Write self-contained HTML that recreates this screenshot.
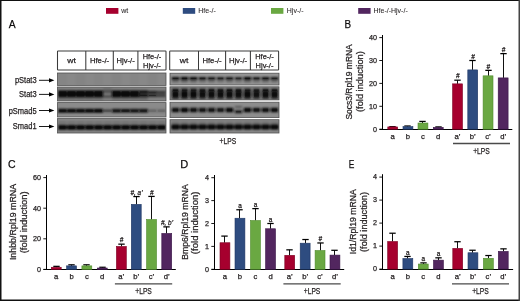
<!DOCTYPE html>
<html><head><meta charset="utf-8"><style>
html,body{margin:0;padding:0;background:#fff;}
svg{display:block;will-change:transform;}
text{font-family:"Liberation Sans", sans-serif;stroke:#231f20;stroke-width:0.25px;}
text.m{font-style:italic;}
</style></head><body>
<svg width="520" height="301" viewBox="0 0 520 301" font-family="Liberation Sans, sans-serif">
<defs><filter id="bl" x="-20%" y="-50%" width="140%" height="200%"><feGaussianBlur stdDeviation="0.8"/></filter></defs>
<rect x="0" y="0" width="520" height="301" fill="#fff"/>
<rect x="106" y="8" width="12.4" height="5.8" fill="#a6002e"/>
<text x="121.3" y="12.9" font-size="7" text-anchor="start" fill="#231f20" style="stroke-width:0.05px">wt</text>
<rect x="182.8" y="8" width="12.4" height="5.8" fill="#2e4c80"/>
<text x="198.3" y="12.9" font-size="7" text-anchor="start" fill="#231f20" style="stroke-width:0.05px">Hfe-/-</text>
<rect x="271" y="8" width="12.4" height="5.8" fill="#6aa842"/>
<text x="286.8" y="12.9" font-size="7" text-anchor="start" fill="#231f20" style="stroke-width:0.05px">Hjv-/-</text>
<rect x="358.2" y="8" width="12.4" height="5.8" fill="#52265f"/>
<text x="373.5" y="12.9" font-size="7" text-anchor="start" fill="#231f20" style="stroke-width:0.05px">Hfe-/-Hjv-/-</text>
<text x="8.8" y="27.9" font-size="11.2" text-anchor="start" fill="#000" textLength="6.9" lengthAdjust="spacingAndGlyphs">A</text>
<text x="344.4" y="27.8" font-size="11.2" text-anchor="start" fill="#000" textLength="6.6" lengthAdjust="spacingAndGlyphs">B</text>
<text x="7.9" y="168" font-size="11.2" text-anchor="start" fill="#000" textLength="7.6" lengthAdjust="spacingAndGlyphs">C</text>
<text x="180.3" y="167.6" font-size="11.2" text-anchor="start" fill="#000" textLength="8.0" lengthAdjust="spacingAndGlyphs">D</text>
<text x="348.8" y="167.6" font-size="11.2" text-anchor="start" fill="#000" textLength="5.6" lengthAdjust="spacingAndGlyphs">E</text>
<rect x="57.5" y="73.0" width="108.5" height="12.400000000000006" fill="#888888"/>
<clipPath id="c15"><rect x="57.5" y="73.0" width="108.5" height="12.400000000000006"/></clipPath>
<g clip-path="url(#c15)"><g filter="url(#bl)">
<rect x="58.0" y="73.0" width="9.0" height="12.400000000000006" fill="rgb(0,0,0)" fill-opacity="0.02"/>
<rect x="76.0" y="73.0" width="9.0" height="12.400000000000006" fill="rgb(0,0,0)" fill-opacity="0.03"/>
<rect x="94.0" y="73.0" width="9.0" height="12.400000000000006" fill="rgb(0,0,0)" fill-opacity="0.02"/>
<rect x="112.0" y="73.0" width="9.0" height="12.400000000000006" fill="rgb(0,0,0)" fill-opacity="0.03"/>
<rect x="130.0" y="73.0" width="9.0" height="12.400000000000006" fill="rgb(0,0,0)" fill-opacity="0.02"/>
<rect x="148.0" y="73.0" width="9.0" height="12.400000000000006" fill="rgb(0,0,0)" fill-opacity="0.03"/>
</g>
</g>
<rect x="57.5" y="73.0" width="108.5" height="12.400000000000006" fill="none" stroke="#505050" stroke-width="0.8"/>
<rect x="57.5" y="87.0" width="108.5" height="14.0" fill="#808080"/>
<clipPath id="c27"><rect x="57.5" y="87.0" width="108.5" height="14.0"/></clipPath>
<g clip-path="url(#c27)"><g filter="url(#bl)">
<rect x="57.9" y="90.5" width="9.3" height="3.8" rx="0.8" fill="#080808" fill-opacity="1.00"/>
<rect x="57.9" y="93.5" width="9.3" height="3.8" rx="0.8" fill="#080808" fill-opacity="1.00"/>
<rect x="57.9" y="98.2" width="9.3" height="1.2" rx="0.8" fill="#080808" fill-opacity="0.32"/>
<rect x="66.8" y="90.5" width="9.3" height="3.8" rx="0.8" fill="#080808" fill-opacity="1.00"/>
<rect x="66.8" y="93.5" width="9.3" height="3.8" rx="0.8" fill="#080808" fill-opacity="1.00"/>
<rect x="66.8" y="98.2" width="9.3" height="1.2" rx="0.8" fill="#080808" fill-opacity="0.32"/>
<rect x="75.8" y="90.5" width="9.3" height="3.8" rx="0.8" fill="#080808" fill-opacity="1.00"/>
<rect x="75.8" y="93.5" width="9.3" height="3.8" rx="0.8" fill="#080808" fill-opacity="1.00"/>
<rect x="75.8" y="98.2" width="9.3" height="1.2" rx="0.8" fill="#080808" fill-opacity="0.32"/>
<rect x="84.8" y="90.5" width="9.3" height="3.8" rx="0.8" fill="#080808" fill-opacity="1.00"/>
<rect x="84.8" y="93.5" width="9.3" height="3.8" rx="0.8" fill="#080808" fill-opacity="1.00"/>
<rect x="84.8" y="98.2" width="9.3" height="1.2" rx="0.8" fill="#080808" fill-opacity="0.32"/>
<rect x="93.8" y="90.5" width="9.3" height="3.8" rx="0.8" fill="#080808" fill-opacity="1.00"/>
<rect x="93.8" y="93.5" width="9.3" height="3.8" rx="0.8" fill="#080808" fill-opacity="1.00"/>
<rect x="93.8" y="98.2" width="9.3" height="1.2" rx="0.8" fill="#080808" fill-opacity="0.32"/>
<rect x="102.8" y="90.8" width="9.3" height="2.0" rx="0.8" fill="#080808" fill-opacity="0.48"/>
<rect x="102.8" y="95.4" width="9.3" height="2.0" rx="0.8" fill="#080808" fill-opacity="0.53"/>
<rect x="102.8" y="88.8" width="9.3" height="1.5" rx="0.8" fill="#080808" fill-opacity="0.32"/>
<rect x="111.8" y="90.5" width="9.3" height="3.8" rx="0.8" fill="#080808" fill-opacity="1.00"/>
<rect x="111.8" y="93.5" width="9.3" height="3.8" rx="0.8" fill="#080808" fill-opacity="1.00"/>
<rect x="111.8" y="98.2" width="9.3" height="1.2" rx="0.8" fill="#080808" fill-opacity="0.32"/>
<rect x="120.8" y="90.5" width="9.3" height="3.8" rx="0.8" fill="#080808" fill-opacity="1.00"/>
<rect x="120.8" y="93.5" width="9.3" height="3.8" rx="0.8" fill="#080808" fill-opacity="1.00"/>
<rect x="120.8" y="98.2" width="9.3" height="1.2" rx="0.8" fill="#080808" fill-opacity="0.32"/>
<rect x="129.8" y="90.5" width="9.3" height="3.8" rx="0.8" fill="#080808" fill-opacity="1.00"/>
<rect x="129.8" y="93.5" width="9.3" height="3.8" rx="0.8" fill="#080808" fill-opacity="1.00"/>
<rect x="129.8" y="98.2" width="9.3" height="1.2" rx="0.8" fill="#080808" fill-opacity="0.32"/>
<rect x="138.8" y="90.6" width="9.3" height="2.8" rx="0.8" fill="#080808" fill-opacity="0.93"/>
<rect x="138.8" y="94.2" width="9.3" height="2.8" rx="0.8" fill="#080808" fill-opacity="0.89"/>
<rect x="138.8" y="98.0" width="9.3" height="1.2" rx="0.8" fill="#080808" fill-opacity="0.43"/>
<rect x="147.8" y="91.0" width="9.3" height="2.4" rx="0.8" fill="#080808" fill-opacity="0.82"/>
<rect x="147.8" y="94.4" width="9.3" height="2.4" rx="0.8" fill="#080808" fill-opacity="0.78"/>
<rect x="156.8" y="91.3" width="9.3" height="2.2" rx="0.8" fill="#080808" fill-opacity="0.70"/>
<rect x="156.8" y="94.5" width="9.3" height="2.2" rx="0.8" fill="#080808" fill-opacity="0.66"/>
</g>
<rect x="59.1" y="91.3" width="6.9" height="2.2" fill="#080808" fill-opacity="0.60"/>
<rect x="59.1" y="94.3" width="6.9" height="2.2" fill="#080808" fill-opacity="0.60"/>
<rect x="68.0" y="91.3" width="6.9" height="2.2" fill="#080808" fill-opacity="0.60"/>
<rect x="68.0" y="94.3" width="6.9" height="2.2" fill="#080808" fill-opacity="0.60"/>
<rect x="77.0" y="91.3" width="6.9" height="2.2" fill="#080808" fill-opacity="0.60"/>
<rect x="77.0" y="94.3" width="6.9" height="2.2" fill="#080808" fill-opacity="0.60"/>
<rect x="86.0" y="91.3" width="6.9" height="2.2" fill="#080808" fill-opacity="0.60"/>
<rect x="86.0" y="94.3" width="6.9" height="2.2" fill="#080808" fill-opacity="0.60"/>
<rect x="95.0" y="91.3" width="6.9" height="2.2" fill="#080808" fill-opacity="0.60"/>
<rect x="95.0" y="94.3" width="6.9" height="2.2" fill="#080808" fill-opacity="0.60"/>
<rect x="113.0" y="91.3" width="6.9" height="2.2" fill="#080808" fill-opacity="0.60"/>
<rect x="113.0" y="94.3" width="6.9" height="2.2" fill="#080808" fill-opacity="0.60"/>
<rect x="122.0" y="91.3" width="6.9" height="2.2" fill="#080808" fill-opacity="0.60"/>
<rect x="122.0" y="94.3" width="6.9" height="2.2" fill="#080808" fill-opacity="0.60"/>
<rect x="131.0" y="91.3" width="6.9" height="2.2" fill="#080808" fill-opacity="0.60"/>
<rect x="131.0" y="94.3" width="6.9" height="2.2" fill="#080808" fill-opacity="0.60"/>
<rect x="140.0" y="91.4" width="6.9" height="1.2" fill="#080808" fill-opacity="0.56"/>
<rect x="140.0" y="95.0" width="6.9" height="1.2" fill="#080808" fill-opacity="0.54"/>
<rect x="149.0" y="91.8" width="6.9" height="0.8" fill="#080808" fill-opacity="0.49"/>
<rect x="149.0" y="95.2" width="6.9" height="0.8" fill="#080808" fill-opacity="0.47"/>
</g>
<rect x="57.5" y="87.0" width="108.5" height="14.0" fill="none" stroke="#505050" stroke-width="0.8"/>
<rect x="57.5" y="102.6" width="108.5" height="14.400000000000006" fill="#8b8b8b"/>
<clipPath id="c87"><rect x="57.5" y="102.6" width="108.5" height="14.400000000000006"/></clipPath>
<g clip-path="url(#c87)"><g filter="url(#bl)">
<rect x="58.0" y="108.7" width="9.0" height="4.0" rx="0.8" fill="#080808" fill-opacity="0.96"/>
<rect x="67.0" y="108.7" width="9.0" height="4.0" rx="0.8" fill="#080808" fill-opacity="0.96"/>
<rect x="76.0" y="108.7" width="9.0" height="4.0" rx="0.8" fill="#080808" fill-opacity="0.96"/>
<rect x="85.0" y="108.7" width="9.0" height="4.0" rx="0.8" fill="#080808" fill-opacity="0.96"/>
<rect x="94.0" y="108.7" width="9.0" height="4.0" rx="0.8" fill="#080808" fill-opacity="1.00"/>
<rect x="103.0" y="108.7" width="9.0" height="4.0" rx="0.8" fill="#080808" fill-opacity="0.32"/>
<rect x="112.0" y="108.7" width="9.0" height="4.0" rx="0.8" fill="#080808" fill-opacity="0.82"/>
<rect x="121.0" y="108.7" width="9.0" height="4.0" rx="0.8" fill="#080808" fill-opacity="0.78"/>
<rect x="130.0" y="108.7" width="9.0" height="4.0" rx="0.8" fill="#080808" fill-opacity="0.82"/>
<rect x="139.0" y="108.7" width="9.0" height="4.0" rx="0.8" fill="#080808" fill-opacity="0.82"/>
<rect x="148.0" y="108.7" width="9.0" height="4.0" rx="0.8" fill="#080808" fill-opacity="0.17"/>
<rect x="157.0" y="108.7" width="9.0" height="4.0" rx="0.8" fill="#080808" fill-opacity="0.17"/>
</g>
<rect x="59.2" y="109.5" width="6.6" height="2.4" fill="#080808" fill-opacity="0.58"/>
<rect x="68.2" y="109.5" width="6.6" height="2.4" fill="#080808" fill-opacity="0.58"/>
<rect x="77.2" y="109.5" width="6.6" height="2.4" fill="#080808" fill-opacity="0.58"/>
<rect x="86.2" y="109.5" width="6.6" height="2.4" fill="#080808" fill-opacity="0.58"/>
<rect x="95.2" y="109.5" width="6.6" height="2.4" fill="#080808" fill-opacity="0.60"/>
<rect x="104.2" y="109.5" width="6.6" height="2.4" fill="#080808" fill-opacity="0.19"/>
<rect x="113.2" y="109.5" width="6.6" height="2.4" fill="#080808" fill-opacity="0.49"/>
<rect x="122.2" y="109.5" width="6.6" height="2.4" fill="#080808" fill-opacity="0.47"/>
<rect x="131.2" y="109.5" width="6.6" height="2.4" fill="#080808" fill-opacity="0.49"/>
<rect x="140.2" y="109.5" width="6.6" height="2.4" fill="#080808" fill-opacity="0.49"/>
<rect x="149.2" y="109.5" width="6.6" height="2.4" fill="#080808" fill-opacity="0.10"/>
<rect x="158.2" y="109.5" width="6.6" height="2.4" fill="#080808" fill-opacity="0.10"/>
</g>
<rect x="57.5" y="102.6" width="108.5" height="14.400000000000006" fill="none" stroke="#505050" stroke-width="0.8"/>
<rect x="57.5" y="118.6" width="108.5" height="14.400000000000006" fill="#858585"/>
<clipPath id="c117"><rect x="57.5" y="118.6" width="108.5" height="14.400000000000006"/></clipPath>
<g clip-path="url(#c117)"><g filter="url(#bl)">
<rect x="58.1" y="124.9" width="8.7" height="4.8" rx="0.8" fill="#080808" fill-opacity="1.00"/>
<rect x="58.1" y="121.8" width="8.7" height="1.5" rx="0.8" fill="#080808" fill-opacity="0.27"/>
<rect x="67.2" y="124.9" width="8.7" height="4.8" rx="0.8" fill="#080808" fill-opacity="1.00"/>
<rect x="67.2" y="121.8" width="8.7" height="1.5" rx="0.8" fill="#080808" fill-opacity="0.27"/>
<rect x="76.2" y="124.9" width="8.7" height="4.8" rx="0.8" fill="#080808" fill-opacity="1.00"/>
<rect x="76.2" y="121.8" width="8.7" height="1.5" rx="0.8" fill="#080808" fill-opacity="0.27"/>
<rect x="85.2" y="124.9" width="8.7" height="4.8" rx="0.8" fill="#080808" fill-opacity="1.00"/>
<rect x="85.2" y="121.8" width="8.7" height="1.5" rx="0.8" fill="#080808" fill-opacity="0.27"/>
<rect x="94.2" y="124.9" width="8.7" height="4.8" rx="0.8" fill="#080808" fill-opacity="1.00"/>
<rect x="94.2" y="121.8" width="8.7" height="1.5" rx="0.8" fill="#080808" fill-opacity="0.27"/>
<rect x="103.2" y="124.9" width="8.7" height="4.8" rx="0.8" fill="#080808" fill-opacity="1.00"/>
<rect x="103.2" y="121.8" width="8.7" height="1.5" rx="0.8" fill="#080808" fill-opacity="0.27"/>
<rect x="112.2" y="124.9" width="8.7" height="4.8" rx="0.8" fill="#080808" fill-opacity="1.00"/>
<rect x="112.2" y="121.8" width="8.7" height="1.5" rx="0.8" fill="#080808" fill-opacity="0.27"/>
<rect x="121.2" y="124.9" width="8.7" height="4.8" rx="0.8" fill="#080808" fill-opacity="1.00"/>
<rect x="121.2" y="121.8" width="8.7" height="1.5" rx="0.8" fill="#080808" fill-opacity="0.27"/>
<rect x="130.2" y="124.9" width="8.7" height="4.8" rx="0.8" fill="#080808" fill-opacity="1.00"/>
<rect x="130.2" y="121.8" width="8.7" height="1.5" rx="0.8" fill="#080808" fill-opacity="0.27"/>
<rect x="139.2" y="124.9" width="8.7" height="4.8" rx="0.8" fill="#080808" fill-opacity="1.00"/>
<rect x="139.2" y="121.8" width="8.7" height="1.5" rx="0.8" fill="#080808" fill-opacity="0.27"/>
<rect x="148.2" y="124.9" width="8.7" height="4.8" rx="0.8" fill="#080808" fill-opacity="1.00"/>
<rect x="148.2" y="121.8" width="8.7" height="1.5" rx="0.8" fill="#080808" fill-opacity="0.27"/>
<rect x="157.2" y="124.9" width="8.7" height="4.8" rx="0.8" fill="#080808" fill-opacity="1.00"/>
<rect x="157.2" y="121.8" width="8.7" height="1.5" rx="0.8" fill="#080808" fill-opacity="0.27"/>
</g>
<rect x="59.4" y="125.7" width="6.3" height="3.2" fill="#080808" fill-opacity="0.60"/>
<rect x="68.4" y="125.7" width="6.3" height="3.2" fill="#080808" fill-opacity="0.60"/>
<rect x="77.4" y="125.7" width="6.3" height="3.2" fill="#080808" fill-opacity="0.60"/>
<rect x="86.4" y="125.7" width="6.3" height="3.2" fill="#080808" fill-opacity="0.60"/>
<rect x="95.4" y="125.7" width="6.3" height="3.2" fill="#080808" fill-opacity="0.60"/>
<rect x="104.4" y="125.7" width="6.3" height="3.2" fill="#080808" fill-opacity="0.60"/>
<rect x="113.4" y="125.7" width="6.3" height="3.2" fill="#080808" fill-opacity="0.60"/>
<rect x="122.4" y="125.7" width="6.3" height="3.2" fill="#080808" fill-opacity="0.60"/>
<rect x="131.3" y="125.7" width="6.3" height="3.2" fill="#080808" fill-opacity="0.60"/>
<rect x="140.3" y="125.7" width="6.3" height="3.2" fill="#080808" fill-opacity="0.60"/>
<rect x="149.3" y="125.7" width="6.3" height="3.2" fill="#080808" fill-opacity="0.60"/>
<rect x="158.3" y="125.7" width="6.3" height="3.2" fill="#080808" fill-opacity="0.60"/>
</g>
<rect x="57.5" y="118.6" width="108.5" height="14.400000000000006" fill="none" stroke="#505050" stroke-width="0.8"/>
<rect x="170.0" y="73.2" width="109.0" height="11.799999999999997" fill="#959595"/>
<clipPath id="c159"><rect x="170.0" y="73.2" width="109.0" height="11.799999999999997"/></clipPath>
<g clip-path="url(#c159)"><g filter="url(#bl)">
<rect x="171.6" y="76.9" width="7.8" height="3.0" rx="0.8" fill="#080808" fill-opacity="0.89"/>
<rect x="171.6" y="80.9" width="7.8" height="1.4" rx="0.8" fill="#080808" fill-opacity="0.51"/>
<rect x="180.6" y="76.9" width="7.8" height="3.0" rx="0.8" fill="#080808" fill-opacity="1.00"/>
<rect x="180.6" y="80.9" width="7.8" height="1.4" rx="0.8" fill="#080808" fill-opacity="0.57"/>
<rect x="189.6" y="76.9" width="7.8" height="3.0" rx="0.8" fill="#080808" fill-opacity="0.93"/>
<rect x="189.6" y="80.9" width="7.8" height="1.4" rx="0.8" fill="#080808" fill-opacity="0.53"/>
<rect x="198.6" y="76.9" width="7.8" height="3.0" rx="0.8" fill="#080808" fill-opacity="0.78"/>
<rect x="198.6" y="80.9" width="7.8" height="1.4" rx="0.8" fill="#080808" fill-opacity="0.45"/>
<rect x="207.6" y="76.9" width="7.8" height="3.0" rx="0.8" fill="#080808" fill-opacity="0.82"/>
<rect x="207.6" y="80.9" width="7.8" height="1.4" rx="0.8" fill="#080808" fill-opacity="0.47"/>
<rect x="216.6" y="76.9" width="7.8" height="3.0" rx="0.8" fill="#080808" fill-opacity="0.70"/>
<rect x="216.6" y="80.9" width="7.8" height="1.4" rx="0.8" fill="#080808" fill-opacity="0.40"/>
<rect x="225.6" y="76.9" width="7.8" height="3.0" rx="0.8" fill="#080808" fill-opacity="0.82"/>
<rect x="225.6" y="80.9" width="7.8" height="1.4" rx="0.8" fill="#080808" fill-opacity="0.47"/>
<rect x="234.6" y="76.9" width="7.8" height="3.0" rx="0.8" fill="#080808" fill-opacity="0.66"/>
<rect x="234.6" y="80.9" width="7.8" height="1.4" rx="0.8" fill="#080808" fill-opacity="0.38"/>
<rect x="243.6" y="76.9" width="7.8" height="3.0" rx="0.8" fill="#080808" fill-opacity="1.00"/>
<rect x="243.6" y="80.9" width="7.8" height="1.4" rx="0.8" fill="#080808" fill-opacity="0.57"/>
<rect x="252.6" y="76.9" width="7.8" height="3.0" rx="0.8" fill="#080808" fill-opacity="0.74"/>
<rect x="252.6" y="80.9" width="7.8" height="1.4" rx="0.8" fill="#080808" fill-opacity="0.42"/>
<rect x="261.6" y="76.9" width="7.8" height="3.0" rx="0.8" fill="#080808" fill-opacity="0.89"/>
<rect x="261.6" y="80.9" width="7.8" height="1.4" rx="0.8" fill="#080808" fill-opacity="0.51"/>
<rect x="270.6" y="76.9" width="7.8" height="3.0" rx="0.8" fill="#080808" fill-opacity="0.82"/>
<rect x="270.6" y="80.9" width="7.8" height="1.4" rx="0.8" fill="#080808" fill-opacity="0.47"/>
</g>
<rect x="172.8" y="77.7" width="5.4" height="1.4" fill="#080808" fill-opacity="0.54"/>
<rect x="181.8" y="77.7" width="5.4" height="1.4" fill="#080808" fill-opacity="0.60"/>
<rect x="190.8" y="77.7" width="5.4" height="1.4" fill="#080808" fill-opacity="0.56"/>
<rect x="199.8" y="77.7" width="5.4" height="1.4" fill="#080808" fill-opacity="0.47"/>
<rect x="208.8" y="77.7" width="5.4" height="1.4" fill="#080808" fill-opacity="0.49"/>
<rect x="217.8" y="77.7" width="5.4" height="1.4" fill="#080808" fill-opacity="0.42"/>
<rect x="226.8" y="77.7" width="5.4" height="1.4" fill="#080808" fill-opacity="0.49"/>
<rect x="235.8" y="77.7" width="5.4" height="1.4" fill="#080808" fill-opacity="0.39"/>
<rect x="244.8" y="77.7" width="5.4" height="1.4" fill="#080808" fill-opacity="0.60"/>
<rect x="253.8" y="77.7" width="5.4" height="1.4" fill="#080808" fill-opacity="0.44"/>
<rect x="262.8" y="77.7" width="5.4" height="1.4" fill="#080808" fill-opacity="0.54"/>
<rect x="271.8" y="77.7" width="5.4" height="1.4" fill="#080808" fill-opacity="0.49"/>
</g>
<rect x="170.0" y="73.2" width="109.0" height="11.799999999999997" fill="none" stroke="#505050" stroke-width="0.8"/>
<rect x="170.0" y="86.8" width="109.0" height="13.100000000000009" fill="#858585"/>
<clipPath id="c201"><rect x="170.0" y="86.8" width="109.0" height="13.100000000000009"/></clipPath>
<g clip-path="url(#c201)"><g filter="url(#bl)">
<rect x="171.8" y="88.6" width="7.3" height="3.4" rx="0.8" fill="#080808" fill-opacity="0.79"/>
<rect x="171.8" y="91.6" width="7.3" height="6.0" rx="0.8" fill="#080808" fill-opacity="0.96"/>
<rect x="171.8" y="97.4" width="7.3" height="2.0" rx="0.8" fill="#080808" fill-opacity="0.59"/>
<rect x="180.8" y="88.6" width="7.3" height="3.4" rx="0.8" fill="#080808" fill-opacity="0.82"/>
<rect x="180.8" y="91.6" width="7.3" height="6.0" rx="0.8" fill="#080808" fill-opacity="1.00"/>
<rect x="180.8" y="97.4" width="7.3" height="2.0" rx="0.8" fill="#080808" fill-opacity="0.62"/>
<rect x="189.8" y="88.6" width="7.3" height="3.4" rx="0.8" fill="#080808" fill-opacity="0.82"/>
<rect x="189.8" y="91.6" width="7.3" height="6.0" rx="0.8" fill="#080808" fill-opacity="1.00"/>
<rect x="189.8" y="97.4" width="7.3" height="2.0" rx="0.8" fill="#080808" fill-opacity="0.62"/>
<rect x="198.8" y="88.6" width="7.3" height="3.4" rx="0.8" fill="#080808" fill-opacity="0.76"/>
<rect x="198.8" y="91.6" width="7.3" height="6.0" rx="0.8" fill="#080808" fill-opacity="0.93"/>
<rect x="198.8" y="97.4" width="7.3" height="2.0" rx="0.8" fill="#080808" fill-opacity="0.57"/>
<rect x="207.8" y="88.6" width="7.3" height="3.4" rx="0.8" fill="#080808" fill-opacity="0.79"/>
<rect x="207.8" y="91.6" width="7.3" height="6.0" rx="0.8" fill="#080808" fill-opacity="0.96"/>
<rect x="207.8" y="97.4" width="7.3" height="2.0" rx="0.8" fill="#080808" fill-opacity="0.59"/>
<rect x="216.8" y="88.6" width="7.3" height="3.4" rx="0.8" fill="#080808" fill-opacity="0.76"/>
<rect x="216.8" y="91.6" width="7.3" height="6.0" rx="0.8" fill="#080808" fill-opacity="0.93"/>
<rect x="216.8" y="97.4" width="7.3" height="2.0" rx="0.8" fill="#080808" fill-opacity="0.57"/>
<rect x="225.8" y="88.6" width="7.3" height="3.4" rx="0.8" fill="#080808" fill-opacity="0.79"/>
<rect x="225.8" y="91.6" width="7.3" height="6.0" rx="0.8" fill="#080808" fill-opacity="0.96"/>
<rect x="225.8" y="97.4" width="7.3" height="2.0" rx="0.8" fill="#080808" fill-opacity="0.59"/>
<rect x="234.8" y="88.6" width="7.3" height="3.4" rx="0.8" fill="#080808" fill-opacity="0.76"/>
<rect x="234.8" y="91.6" width="7.3" height="6.0" rx="0.8" fill="#080808" fill-opacity="0.93"/>
<rect x="234.8" y="97.4" width="7.3" height="2.0" rx="0.8" fill="#080808" fill-opacity="0.57"/>
<rect x="243.8" y="88.6" width="7.3" height="3.4" rx="0.8" fill="#080808" fill-opacity="0.82"/>
<rect x="243.8" y="91.6" width="7.3" height="6.0" rx="0.8" fill="#080808" fill-opacity="1.00"/>
<rect x="243.8" y="97.4" width="7.3" height="2.0" rx="0.8" fill="#080808" fill-opacity="0.62"/>
<rect x="252.8" y="88.6" width="7.3" height="3.4" rx="0.8" fill="#080808" fill-opacity="0.73"/>
<rect x="252.8" y="91.6" width="7.3" height="6.0" rx="0.8" fill="#080808" fill-opacity="0.89"/>
<rect x="252.8" y="97.4" width="7.3" height="2.0" rx="0.8" fill="#080808" fill-opacity="0.55"/>
<rect x="261.9" y="88.6" width="7.3" height="3.4" rx="0.8" fill="#080808" fill-opacity="0.79"/>
<rect x="261.9" y="91.6" width="7.3" height="6.0" rx="0.8" fill="#080808" fill-opacity="0.96"/>
<rect x="261.9" y="97.4" width="7.3" height="2.0" rx="0.8" fill="#080808" fill-opacity="0.59"/>
<rect x="270.9" y="88.6" width="7.3" height="3.4" rx="0.8" fill="#080808" fill-opacity="0.79"/>
<rect x="270.9" y="91.6" width="7.3" height="6.0" rx="0.8" fill="#080808" fill-opacity="0.96"/>
<rect x="270.9" y="97.4" width="7.3" height="2.0" rx="0.8" fill="#080808" fill-opacity="0.59"/>
</g>
<rect x="173.0" y="89.4" width="4.9" height="1.8" fill="#080808" fill-opacity="0.47"/>
<rect x="173.0" y="92.4" width="4.9" height="4.4" fill="#080808" fill-opacity="0.58"/>
<rect x="182.0" y="89.4" width="4.9" height="1.8" fill="#080808" fill-opacity="0.49"/>
<rect x="182.0" y="92.4" width="4.9" height="4.4" fill="#080808" fill-opacity="0.60"/>
<rect x="191.0" y="89.4" width="4.9" height="1.8" fill="#080808" fill-opacity="0.49"/>
<rect x="191.0" y="92.4" width="4.9" height="4.4" fill="#080808" fill-opacity="0.60"/>
<rect x="200.0" y="89.4" width="4.9" height="1.8" fill="#080808" fill-opacity="0.46"/>
<rect x="200.0" y="92.4" width="4.9" height="4.4" fill="#080808" fill-opacity="0.56"/>
<rect x="209.0" y="89.4" width="4.9" height="1.8" fill="#080808" fill-opacity="0.47"/>
<rect x="209.0" y="92.4" width="4.9" height="4.4" fill="#080808" fill-opacity="0.58"/>
<rect x="218.0" y="89.4" width="4.9" height="1.8" fill="#080808" fill-opacity="0.46"/>
<rect x="218.0" y="92.4" width="4.9" height="4.4" fill="#080808" fill-opacity="0.56"/>
<rect x="227.0" y="89.4" width="4.9" height="1.8" fill="#080808" fill-opacity="0.47"/>
<rect x="227.0" y="92.4" width="4.9" height="4.4" fill="#080808" fill-opacity="0.58"/>
<rect x="236.0" y="89.4" width="4.9" height="1.8" fill="#080808" fill-opacity="0.46"/>
<rect x="236.0" y="92.4" width="4.9" height="4.4" fill="#080808" fill-opacity="0.56"/>
<rect x="245.0" y="89.4" width="4.9" height="1.8" fill="#080808" fill-opacity="0.49"/>
<rect x="245.0" y="92.4" width="4.9" height="4.4" fill="#080808" fill-opacity="0.60"/>
<rect x="254.0" y="89.4" width="4.9" height="1.8" fill="#080808" fill-opacity="0.44"/>
<rect x="254.0" y="92.4" width="4.9" height="4.4" fill="#080808" fill-opacity="0.54"/>
<rect x="263.1" y="89.4" width="4.9" height="1.8" fill="#080808" fill-opacity="0.47"/>
<rect x="263.1" y="92.4" width="4.9" height="4.4" fill="#080808" fill-opacity="0.58"/>
<rect x="272.1" y="89.4" width="4.9" height="1.8" fill="#080808" fill-opacity="0.47"/>
<rect x="272.1" y="92.4" width="4.9" height="4.4" fill="#080808" fill-opacity="0.58"/>
</g>
<rect x="170.0" y="86.8" width="109.0" height="13.100000000000009" fill="none" stroke="#505050" stroke-width="0.8"/>
<rect x="170.0" y="102.2" width="109.0" height="15.399999999999991" fill="#8d8d8d"/>
<clipPath id="c267"><rect x="170.0" y="102.2" width="109.0" height="15.399999999999991"/></clipPath>
<g clip-path="url(#c267)"><g filter="url(#bl)">
<rect x="171.7" y="107.7" width="7.7" height="4.6" rx="0.8" fill="#080808" fill-opacity="0.89"/>
<rect x="180.7" y="107.7" width="7.7" height="4.6" rx="0.8" fill="#080808" fill-opacity="1.00"/>
<rect x="189.7" y="107.7" width="7.7" height="4.6" rx="0.8" fill="#080808" fill-opacity="0.89"/>
<rect x="198.7" y="107.7" width="7.7" height="4.6" rx="0.8" fill="#080808" fill-opacity="0.86"/>
<rect x="207.7" y="107.7" width="7.7" height="4.6" rx="0.8" fill="#080808" fill-opacity="0.86"/>
<rect x="216.7" y="107.7" width="7.7" height="4.6" rx="0.8" fill="#080808" fill-opacity="0.74"/>
<rect x="225.7" y="107.7" width="7.7" height="4.6" rx="0.8" fill="#080808" fill-opacity="0.96"/>
<rect x="234.7" y="106.2" width="7.7" height="1.6" rx="0.8" fill="#080808" fill-opacity="0.53"/>
<rect x="234.7" y="110.3" width="7.7" height="3.0" rx="0.8" fill="#080808" fill-opacity="0.82"/>
<rect x="243.7" y="107.7" width="7.7" height="4.6" rx="0.8" fill="#080808" fill-opacity="0.96"/>
<rect x="252.7" y="107.7" width="7.7" height="4.6" rx="0.8" fill="#080808" fill-opacity="0.78"/>
<rect x="261.6" y="107.7" width="7.7" height="4.6" rx="0.8" fill="#080808" fill-opacity="0.89"/>
<rect x="270.6" y="107.7" width="7.7" height="4.6" rx="0.8" fill="#080808" fill-opacity="0.93"/>
</g>
<rect x="172.8" y="108.5" width="5.3" height="3.0" fill="#080808" fill-opacity="0.54"/>
<rect x="181.8" y="108.5" width="5.3" height="3.0" fill="#080808" fill-opacity="0.60"/>
<rect x="190.8" y="108.5" width="5.3" height="3.0" fill="#080808" fill-opacity="0.54"/>
<rect x="199.8" y="108.5" width="5.3" height="3.0" fill="#080808" fill-opacity="0.51"/>
<rect x="208.8" y="108.5" width="5.3" height="3.0" fill="#080808" fill-opacity="0.51"/>
<rect x="217.8" y="108.5" width="5.3" height="3.0" fill="#080808" fill-opacity="0.44"/>
<rect x="226.8" y="108.5" width="5.3" height="3.0" fill="#080808" fill-opacity="0.58"/>
<rect x="235.8" y="111.1" width="5.3" height="1.4" fill="#080808" fill-opacity="0.49"/>
<rect x="244.8" y="108.5" width="5.3" height="3.0" fill="#080808" fill-opacity="0.58"/>
<rect x="253.8" y="108.5" width="5.3" height="3.0" fill="#080808" fill-opacity="0.47"/>
<rect x="262.8" y="108.5" width="5.3" height="3.0" fill="#080808" fill-opacity="0.54"/>
<rect x="271.8" y="108.5" width="5.3" height="3.0" fill="#080808" fill-opacity="0.56"/>
</g>
<rect x="170.0" y="102.2" width="109.0" height="15.399999999999991" fill="none" stroke="#505050" stroke-width="0.8"/>
<rect x="170.0" y="119.7" width="109.0" height="13.299999999999997" fill="#888888"/>
<clipPath id="c298"><rect x="170.0" y="119.7" width="109.0" height="13.299999999999997"/></clipPath>
<g clip-path="url(#c298)"><g filter="url(#bl)">
<rect x="171.3" y="124.6" width="8.4" height="4.8" rx="0.8" fill="#080808" fill-opacity="1.00"/>
<rect x="171.3" y="121.8" width="8.4" height="1.5" rx="0.8" fill="#080808" fill-opacity="0.27"/>
<rect x="180.3" y="124.6" width="8.4" height="4.8" rx="0.8" fill="#080808" fill-opacity="1.00"/>
<rect x="180.3" y="121.8" width="8.4" height="1.5" rx="0.8" fill="#080808" fill-opacity="0.27"/>
<rect x="189.3" y="124.6" width="8.4" height="4.8" rx="0.8" fill="#080808" fill-opacity="1.00"/>
<rect x="189.3" y="121.8" width="8.4" height="1.5" rx="0.8" fill="#080808" fill-opacity="0.27"/>
<rect x="198.3" y="124.6" width="8.4" height="4.8" rx="0.8" fill="#080808" fill-opacity="1.00"/>
<rect x="198.3" y="121.8" width="8.4" height="1.5" rx="0.8" fill="#080808" fill-opacity="0.27"/>
<rect x="207.3" y="124.6" width="8.4" height="4.8" rx="0.8" fill="#080808" fill-opacity="1.00"/>
<rect x="207.3" y="121.8" width="8.4" height="1.5" rx="0.8" fill="#080808" fill-opacity="0.27"/>
<rect x="216.3" y="124.6" width="8.4" height="4.8" rx="0.8" fill="#080808" fill-opacity="1.00"/>
<rect x="216.3" y="121.8" width="8.4" height="1.5" rx="0.8" fill="#080808" fill-opacity="0.27"/>
<rect x="225.3" y="124.6" width="8.4" height="4.8" rx="0.8" fill="#080808" fill-opacity="1.00"/>
<rect x="225.3" y="121.8" width="8.4" height="1.5" rx="0.8" fill="#080808" fill-opacity="0.27"/>
<rect x="234.3" y="124.6" width="8.4" height="4.8" rx="0.8" fill="#080808" fill-opacity="1.00"/>
<rect x="234.3" y="121.8" width="8.4" height="1.5" rx="0.8" fill="#080808" fill-opacity="0.27"/>
<rect x="243.3" y="124.6" width="8.4" height="4.8" rx="0.8" fill="#080808" fill-opacity="1.00"/>
<rect x="243.3" y="121.8" width="8.4" height="1.5" rx="0.8" fill="#080808" fill-opacity="0.27"/>
<rect x="252.3" y="124.6" width="8.4" height="4.8" rx="0.8" fill="#080808" fill-opacity="1.00"/>
<rect x="252.3" y="121.8" width="8.4" height="1.5" rx="0.8" fill="#080808" fill-opacity="0.27"/>
<rect x="261.3" y="124.6" width="8.4" height="4.8" rx="0.8" fill="#080808" fill-opacity="1.00"/>
<rect x="261.3" y="121.8" width="8.4" height="1.5" rx="0.8" fill="#080808" fill-opacity="0.27"/>
<rect x="270.3" y="124.6" width="8.4" height="4.8" rx="0.8" fill="#080808" fill-opacity="1.00"/>
<rect x="270.3" y="121.8" width="8.4" height="1.5" rx="0.8" fill="#080808" fill-opacity="0.27"/>
</g>
<rect x="172.5" y="125.4" width="6.0" height="3.2" fill="#080808" fill-opacity="0.60"/>
<rect x="181.5" y="125.4" width="6.0" height="3.2" fill="#080808" fill-opacity="0.60"/>
<rect x="190.5" y="125.4" width="6.0" height="3.2" fill="#080808" fill-opacity="0.60"/>
<rect x="199.5" y="125.4" width="6.0" height="3.2" fill="#080808" fill-opacity="0.60"/>
<rect x="208.5" y="125.4" width="6.0" height="3.2" fill="#080808" fill-opacity="0.60"/>
<rect x="217.5" y="125.4" width="6.0" height="3.2" fill="#080808" fill-opacity="0.60"/>
<rect x="226.5" y="125.4" width="6.0" height="3.2" fill="#080808" fill-opacity="0.60"/>
<rect x="235.5" y="125.4" width="6.0" height="3.2" fill="#080808" fill-opacity="0.60"/>
<rect x="244.5" y="125.4" width="6.0" height="3.2" fill="#080808" fill-opacity="0.60"/>
<rect x="253.5" y="125.4" width="6.0" height="3.2" fill="#080808" fill-opacity="0.60"/>
<rect x="262.5" y="125.4" width="6.0" height="3.2" fill="#080808" fill-opacity="0.60"/>
<rect x="271.5" y="125.4" width="6.0" height="3.2" fill="#080808" fill-opacity="0.60"/>
</g>
<rect x="170.0" y="119.7" width="109.0" height="13.299999999999997" fill="none" stroke="#505050" stroke-width="0.8"/>
<rect x="57.5" y="51.0" width="108.5" height="19.0" rx="0.6" fill="#fff" stroke="#3a3a3a" stroke-width="1.05"/>
<line x1="85.8" y1="51.0" x2="85.8" y2="70.0" stroke="#3a3a3a" stroke-width="1.05"/>
<line x1="113.3" y1="51.0" x2="113.3" y2="70.0" stroke="#3a3a3a" stroke-width="1.05"/>
<line x1="137.9" y1="51.0" x2="137.9" y2="70.0" stroke="#3a3a3a" stroke-width="1.05"/>
<text x="71.65" y="63.1" font-size="8.0" text-anchor="middle" fill="#231f20" textLength="8.6" lengthAdjust="spacingAndGlyphs">wt</text>
<text x="99.55" y="63.1" font-size="8.0" text-anchor="middle" fill="#231f20" textLength="19.2" lengthAdjust="spacingAndGlyphs">Hfe-/-</text>
<text x="125.6" y="63.1" font-size="8.0" text-anchor="middle" fill="#231f20" textLength="18.2" lengthAdjust="spacingAndGlyphs">Hjv-/-</text>
<text x="151.95" y="58.9" font-size="8.0" text-anchor="middle" fill="#231f20" textLength="18.599999999999998" lengthAdjust="spacingAndGlyphs">Hfe-/-</text>
<text x="151.95" y="67.8" font-size="8.0" text-anchor="middle" fill="#231f20" textLength="17.8" lengthAdjust="spacingAndGlyphs">Hjv-/-</text>
<rect x="169.7" y="51.0" width="108.90000000000003" height="19.0" rx="0.6" fill="#fff" stroke="#3a3a3a" stroke-width="1.05"/>
<line x1="198.5" y1="51.0" x2="198.5" y2="70.0" stroke="#3a3a3a" stroke-width="1.05"/>
<line x1="225.6" y1="51.0" x2="225.6" y2="70.0" stroke="#3a3a3a" stroke-width="1.05"/>
<line x1="250.4" y1="51.0" x2="250.4" y2="70.0" stroke="#3a3a3a" stroke-width="1.05"/>
<text x="184.1" y="63.1" font-size="8.0" text-anchor="middle" fill="#231f20" textLength="8.6" lengthAdjust="spacingAndGlyphs">wt</text>
<text x="212.05" y="63.1" font-size="8.0" text-anchor="middle" fill="#231f20" textLength="19.2" lengthAdjust="spacingAndGlyphs">Hfe-/-</text>
<text x="238.0" y="63.1" font-size="8.0" text-anchor="middle" fill="#231f20" textLength="18.2" lengthAdjust="spacingAndGlyphs">Hjv-/-</text>
<text x="264.5" y="58.9" font-size="8.0" text-anchor="middle" fill="#231f20" textLength="18.599999999999998" lengthAdjust="spacingAndGlyphs">Hfe-/-</text>
<text x="264.5" y="67.8" font-size="8.0" text-anchor="middle" fill="#231f20" textLength="17.8" lengthAdjust="spacingAndGlyphs">Hjv-/-</text>
<text x="36.6" y="83.2" font-size="8.2" text-anchor="end" fill="#231f20" textLength="21.69" lengthAdjust="spacingAndGlyphs">pStat3</text>
<line x1="39" y1="80.3" x2="50" y2="80.3" stroke="#000" stroke-width="0.9"/>
<path d="M49,78.2 L54.4,80.3 L49,82.39999999999999 Z" fill="#000"/>
<text x="36.6" y="97.1" font-size="8.2" text-anchor="end" fill="#231f20" textLength="17.52" lengthAdjust="spacingAndGlyphs">Stat3</text>
<line x1="39" y1="94.4" x2="50" y2="94.4" stroke="#000" stroke-width="0.9"/>
<path d="M49,92.30000000000001 L54.4,94.4 L49,96.5 Z" fill="#000"/>
<text x="36.6" y="113.6" font-size="8.2" text-anchor="end" fill="#231f20" textLength="27.94" lengthAdjust="spacingAndGlyphs">pSmad5</text>
<line x1="39" y1="110.5" x2="50" y2="110.5" stroke="#000" stroke-width="0.9"/>
<path d="M49,108.4 L54.4,110.5 L49,112.6 Z" fill="#000"/>
<text x="36.6" y="129.0" font-size="8.2" text-anchor="end" fill="#231f20" textLength="23.77" lengthAdjust="spacingAndGlyphs">Smad1</text>
<line x1="39" y1="126.5" x2="50" y2="126.5" stroke="#000" stroke-width="0.9"/>
<path d="M49,124.4 L54.4,126.5 L49,128.6 Z" fill="#000"/>
<text x="227.9" y="143.5" font-size="8.4" text-anchor="middle" fill="#231f20" textLength="16.6" lengthAdjust="spacingAndGlyphs">+LPS</text>
<line x1="382.5" y1="35" x2="382.5" y2="130.0" stroke="#000" stroke-width="1.05"/>
<line x1="379.5" y1="129.5" x2="512.3" y2="129.5" stroke="#000" stroke-width="1.1"/>
<line x1="379.3" y1="129.20" x2="382.5" y2="129.20" stroke="#000" stroke-width="0.9"/>
<text x="376.9" y="131.5" font-size="7.2" text-anchor="end" fill="#231f20" >0</text>
<line x1="379.3" y1="106.30" x2="382.5" y2="106.30" stroke="#000" stroke-width="0.9"/>
<text x="376.9" y="108.59999999999998" font-size="7.2" text-anchor="end" fill="#231f20" >10</text>
<line x1="379.3" y1="83.40" x2="382.5" y2="83.40" stroke="#000" stroke-width="0.9"/>
<text x="376.9" y="85.69999999999999" font-size="7.2" text-anchor="end" fill="#231f20" >20</text>
<line x1="379.3" y1="60.50" x2="382.5" y2="60.50" stroke="#000" stroke-width="0.9"/>
<text x="376.9" y="62.79999999999998" font-size="7.2" text-anchor="end" fill="#231f20" >30</text>
<line x1="379.3" y1="37.60" x2="382.5" y2="37.60" stroke="#000" stroke-width="0.9"/>
<text x="376.9" y="39.89999999999999" font-size="7.2" text-anchor="end" fill="#231f20" >40</text>
<line x1="392.5" y1="126.68" x2="392.5" y2="126.91" stroke="#111" stroke-width="1"/>
<line x1="389.3" y1="126.68" x2="395.7" y2="126.68" stroke="#000" stroke-width="1.25"/>
<rect x="387.8" y="126.91" width="9.9" height="2.29" fill="#a6002e" stroke="#7d0022" stroke-width="0.6"/>
<text x="392.75" y="138.6" font-size="7.7" text-anchor="middle" fill="#231f20" >a</text>
<line x1="407.5" y1="125.99" x2="407.5" y2="126.68" stroke="#111" stroke-width="1"/>
<line x1="404.3" y1="125.99" x2="410.7" y2="125.99" stroke="#000" stroke-width="1.25"/>
<rect x="403.0" y="126.68" width="9.9" height="2.52" fill="#2e4c80" stroke="#1e3663" stroke-width="0.6"/>
<text x="407.95" y="138.6" font-size="7.7" text-anchor="middle" fill="#231f20" >b</text>
<line x1="422.5" y1="121.41" x2="422.5" y2="123.02" stroke="#111" stroke-width="1"/>
<line x1="419.3" y1="121.41" x2="425.7" y2="121.41" stroke="#000" stroke-width="1.25"/>
<rect x="418.0" y="123.02" width="9.9" height="6.18" fill="#6aa842" stroke="#4f8a2c" stroke-width="0.6"/>
<text x="422.95" y="138.6" font-size="7.7" text-anchor="middle" fill="#231f20" >c</text>
<line x1="438.5" y1="126.91" x2="438.5" y2="127.37" stroke="#111" stroke-width="1"/>
<line x1="435.3" y1="126.91" x2="441.7" y2="126.91" stroke="#000" stroke-width="1.25"/>
<rect x="433.3" y="127.37" width="9.9" height="1.83" fill="#52265f" stroke="#3a1547" stroke-width="0.6"/>
<text x="438.25" y="138.6" font-size="7.7" text-anchor="middle" fill="#231f20" >d</text>
<line x1="457.5" y1="80.19" x2="457.5" y2="83.86" stroke="#111" stroke-width="1"/>
<line x1="454.3" y1="80.19" x2="460.7" y2="80.19" stroke="#000" stroke-width="1.25"/>
<rect x="452.6" y="83.86" width="9.9" height="45.34" fill="#a6002e" stroke="#7d0022" stroke-width="0.6"/>
<text x="457.55" y="138.6" font-size="7.7" text-anchor="middle" fill="#231f20" >a’</text>
<text x="457.85" y="78.49399999999999" font-size="6.4" text-anchor="middle" fill="#231f20" class="m">#</text>
<line x1="472.5" y1="60.50" x2="472.5" y2="69.89" stroke="#111" stroke-width="1"/>
<line x1="469.3" y1="60.50" x2="475.7" y2="60.50" stroke="#000" stroke-width="1.25"/>
<rect x="467.8" y="69.89" width="9.9" height="59.31" fill="#2e4c80" stroke="#1e3663" stroke-width="0.6"/>
<text x="472.75" y="138.6" font-size="7.7" text-anchor="middle" fill="#231f20" >b’</text>
<text x="473.05" y="58.79999999999998" font-size="6.4" text-anchor="middle" fill="#231f20" class="m">#</text>
<line x1="488.5" y1="70.35" x2="488.5" y2="75.84" stroke="#111" stroke-width="1"/>
<line x1="485.3" y1="70.35" x2="491.7" y2="70.35" stroke="#000" stroke-width="1.25"/>
<rect x="483.1" y="75.84" width="9.9" height="53.36" fill="#6aa842" stroke="#4f8a2c" stroke-width="0.6"/>
<text x="488.05" y="138.6" font-size="7.7" text-anchor="middle" fill="#231f20" >c’</text>
<text x="488.35" y="68.64699999999998" font-size="6.4" text-anchor="middle" fill="#231f20" class="m">#</text>
<line x1="503.5" y1="53.63" x2="503.5" y2="77.90" stroke="#111" stroke-width="1"/>
<line x1="500.3" y1="53.63" x2="506.7" y2="53.63" stroke="#000" stroke-width="1.25"/>
<rect x="498.2" y="77.90" width="9.9" height="51.30" fill="#52265f" stroke="#3a1547" stroke-width="0.6"/>
<text x="503.15" y="138.6" font-size="7.7" text-anchor="middle" fill="#231f20" >d’</text>
<text x="503.45" y="51.92999999999998" font-size="6.4" text-anchor="middle" fill="#231f20" class="m">#</text>
<line x1="453" y1="143.50" x2="510" y2="143.50" stroke="#4a4a4a" stroke-width="1.4"/>
<text x="481.5" y="153.7" font-size="8.6" text-anchor="middle" fill="#231f20" textLength="16.6" lengthAdjust="spacingAndGlyphs">+LPS</text>
<text transform="translate(351.8,81.9) rotate(-90)" font-size="9.0" text-anchor="middle" fill="#231f20" textLength="75.3" lengthAdjust="spacingAndGlyphs">Socs3/Rpl19 mRNA</text>
<text transform="translate(362.6,81.6) rotate(-90)" font-size="9.0" text-anchor="middle" fill="#231f20" textLength="60.8" lengthAdjust="spacingAndGlyphs">(fold induction)</text>
<line x1="46.5" y1="175" x2="46.5" y2="270.0" stroke="#000" stroke-width="1.05"/>
<line x1="43.5" y1="269.5" x2="175.8" y2="269.5" stroke="#000" stroke-width="1.1"/>
<line x1="43.3" y1="269.40" x2="46.5" y2="269.40" stroke="#000" stroke-width="0.9"/>
<text x="40.9" y="271.7" font-size="7.2" text-anchor="end" fill="#231f20" >0</text>
<line x1="43.3" y1="238.80" x2="46.5" y2="238.80" stroke="#000" stroke-width="0.9"/>
<text x="40.9" y="241.1" font-size="7.2" text-anchor="end" fill="#231f20" >20</text>
<line x1="43.3" y1="208.20" x2="46.5" y2="208.20" stroke="#000" stroke-width="0.9"/>
<text x="40.9" y="210.5" font-size="7.2" text-anchor="end" fill="#231f20" >40</text>
<line x1="43.3" y1="177.60" x2="46.5" y2="177.60" stroke="#000" stroke-width="0.9"/>
<text x="40.9" y="179.89999999999998" font-size="7.2" text-anchor="end" fill="#231f20" >60</text>
<line x1="56.5" y1="266.34" x2="56.5" y2="267.26" stroke="#111" stroke-width="1"/>
<line x1="53.3" y1="266.34" x2="59.7" y2="266.34" stroke="#000" stroke-width="1.25"/>
<rect x="51.3" y="267.26" width="9.9" height="2.14" fill="#a6002e" stroke="#7d0022" stroke-width="0.6"/>
<text x="56.25" y="278.79999999999995" font-size="7.7" text-anchor="middle" fill="#231f20" >a</text>
<line x1="71.5" y1="264.81" x2="71.5" y2="265.88" stroke="#111" stroke-width="1"/>
<line x1="68.3" y1="264.81" x2="74.7" y2="264.81" stroke="#000" stroke-width="1.25"/>
<rect x="66.6" y="265.88" width="9.9" height="3.52" fill="#2e4c80" stroke="#1e3663" stroke-width="0.6"/>
<text x="71.55" y="278.79999999999995" font-size="7.7" text-anchor="middle" fill="#231f20" >b</text>
<line x1="86.5" y1="264.81" x2="86.5" y2="265.88" stroke="#111" stroke-width="1"/>
<line x1="83.3" y1="264.81" x2="89.7" y2="264.81" stroke="#000" stroke-width="1.25"/>
<rect x="81.89999999999999" y="265.88" width="9.9" height="3.52" fill="#6aa842" stroke="#4f8a2c" stroke-width="0.6"/>
<text x="86.85" y="278.79999999999995" font-size="7.7" text-anchor="middle" fill="#231f20" >c</text>
<line x1="102.5" y1="267.26" x2="102.5" y2="268.02" stroke="#111" stroke-width="1"/>
<line x1="99.3" y1="267.26" x2="105.7" y2="267.26" stroke="#000" stroke-width="1.25"/>
<rect x="97.3" y="268.02" width="9.9" height="1.38" fill="#52265f" stroke="#3a1547" stroke-width="0.6"/>
<text x="102.25" y="278.79999999999995" font-size="7.7" text-anchor="middle" fill="#231f20" >d</text>
<line x1="121.5" y1="244.15" x2="121.5" y2="246.45" stroke="#111" stroke-width="1"/>
<line x1="118.3" y1="244.15" x2="124.7" y2="244.15" stroke="#000" stroke-width="1.25"/>
<rect x="116.39999999999999" y="246.45" width="9.9" height="22.95" fill="#a6002e" stroke="#7d0022" stroke-width="0.6"/>
<text x="121.35" y="278.79999999999995" font-size="7.7" text-anchor="middle" fill="#231f20" >a’</text>
<text x="121.64999999999999" y="242.45499999999998" font-size="6.4" text-anchor="middle" fill="#231f20" class="m">#</text>
<line x1="136.5" y1="196.57" x2="136.5" y2="204.37" stroke="#111" stroke-width="1"/>
<line x1="133.3" y1="196.57" x2="139.7" y2="196.57" stroke="#000" stroke-width="1.25"/>
<rect x="131.3" y="204.37" width="9.9" height="65.03" fill="#2e4c80" stroke="#1e3663" stroke-width="0.6"/>
<text x="136.25" y="278.79999999999995" font-size="7.7" text-anchor="middle" fill="#231f20" >b’</text>
<text x="136.55" y="194.87199999999999" font-size="6.4" text-anchor="middle" fill="#231f20" class="m">#, a’</text>
<line x1="151.5" y1="196.42" x2="151.5" y2="219.52" stroke="#111" stroke-width="1"/>
<line x1="148.3" y1="196.42" x2="154.7" y2="196.42" stroke="#000" stroke-width="1.25"/>
<rect x="146.60000000000002" y="219.52" width="9.9" height="49.88" fill="#6aa842" stroke="#4f8a2c" stroke-width="0.6"/>
<text x="151.55" y="278.79999999999995" font-size="7.7" text-anchor="middle" fill="#231f20" >c’</text>
<text x="151.85000000000002" y="194.719" font-size="6.4" text-anchor="middle" fill="#231f20" class="m">#</text>
<line x1="166.5" y1="226.87" x2="166.5" y2="233.44" stroke="#111" stroke-width="1"/>
<line x1="163.3" y1="226.87" x2="169.7" y2="226.87" stroke="#000" stroke-width="1.25"/>
<rect x="161.8" y="233.44" width="9.9" height="35.95" fill="#52265f" stroke="#3a1547" stroke-width="0.6"/>
<text x="166.75" y="278.79999999999995" font-size="7.7" text-anchor="middle" fill="#231f20" >d’</text>
<text x="167.05" y="225.166" font-size="6.4" text-anchor="middle" fill="#231f20" class="m">#, b’</text>
<line x1="114.9" y1="283.90" x2="172.2" y2="283.90" stroke="#4a4a4a" stroke-width="1.4"/>
<text x="143.55" y="294.09999999999997" font-size="8.6" text-anchor="middle" fill="#231f20" textLength="16.6" lengthAdjust="spacingAndGlyphs">+LPS</text>
<text transform="translate(15.7,222) rotate(-90)" font-size="9.0" text-anchor="middle" fill="#231f20" textLength="76.2" lengthAdjust="spacingAndGlyphs">Inhbb/Rpl19 mRNA</text>
<text transform="translate(26.5,222.3) rotate(-90)" font-size="9.0" text-anchor="middle" fill="#231f20" textLength="62" lengthAdjust="spacingAndGlyphs">(fold induction)</text>
<line x1="214.5" y1="175" x2="214.5" y2="270.0" stroke="#000" stroke-width="1.05"/>
<line x1="211.5" y1="269.5" x2="344.2" y2="269.5" stroke="#000" stroke-width="1.1"/>
<line x1="211.3" y1="269.30" x2="214.5" y2="269.30" stroke="#000" stroke-width="0.9"/>
<text x="208.9" y="271.6" font-size="7.2" text-anchor="end" fill="#231f20" >0</text>
<line x1="211.3" y1="246.40" x2="214.5" y2="246.40" stroke="#000" stroke-width="0.9"/>
<text x="208.9" y="248.70000000000002" font-size="7.2" text-anchor="end" fill="#231f20" >1</text>
<line x1="211.3" y1="223.50" x2="214.5" y2="223.50" stroke="#000" stroke-width="0.9"/>
<text x="208.9" y="225.8" font-size="7.2" text-anchor="end" fill="#231f20" >2</text>
<line x1="211.3" y1="200.60" x2="214.5" y2="200.60" stroke="#000" stroke-width="0.9"/>
<text x="208.9" y="202.90000000000003" font-size="7.2" text-anchor="end" fill="#231f20" >3</text>
<line x1="211.3" y1="177.70" x2="214.5" y2="177.70" stroke="#000" stroke-width="0.9"/>
<text x="208.9" y="180.00000000000003" font-size="7.2" text-anchor="end" fill="#231f20" >4</text>
<line x1="224.5" y1="236.10" x2="224.5" y2="242.74" stroke="#111" stroke-width="1"/>
<line x1="221.3" y1="236.10" x2="227.7" y2="236.10" stroke="#000" stroke-width="1.25"/>
<rect x="220.0" y="242.74" width="9.9" height="26.56" fill="#a6002e" stroke="#7d0022" stroke-width="0.6"/>
<text x="224.95" y="278.7" font-size="7.7" text-anchor="middle" fill="#231f20" >a</text>
<line x1="239.5" y1="209.76" x2="239.5" y2="218.23" stroke="#111" stroke-width="1"/>
<line x1="236.3" y1="209.76" x2="242.7" y2="209.76" stroke="#000" stroke-width="1.25"/>
<rect x="235.0" y="218.23" width="9.9" height="51.07" fill="#2e4c80" stroke="#1e3663" stroke-width="0.6"/>
<text x="239.95" y="278.7" font-size="7.7" text-anchor="middle" fill="#231f20" >b</text>
<text x="239.95" y="207.86" font-size="6.4" text-anchor="middle" fill="#231f20" >a</text>
<line x1="255.5" y1="208.62" x2="255.5" y2="220.52" stroke="#111" stroke-width="1"/>
<line x1="252.3" y1="208.62" x2="258.7" y2="208.62" stroke="#000" stroke-width="1.25"/>
<rect x="250.5" y="220.52" width="9.9" height="48.78" fill="#6aa842" stroke="#4f8a2c" stroke-width="0.6"/>
<text x="255.45" y="278.7" font-size="7.7" text-anchor="middle" fill="#231f20" >c</text>
<text x="255.45" y="206.715" font-size="6.4" text-anchor="middle" fill="#231f20" >a</text>
<line x1="270.5" y1="223.50" x2="270.5" y2="228.77" stroke="#111" stroke-width="1"/>
<line x1="267.3" y1="223.50" x2="273.7" y2="223.50" stroke="#000" stroke-width="1.25"/>
<rect x="265.6" y="228.77" width="9.9" height="40.53" fill="#52265f" stroke="#3a1547" stroke-width="0.6"/>
<text x="270.55" y="278.7" font-size="7.7" text-anchor="middle" fill="#231f20" >d</text>
<text x="270.55" y="221.6" font-size="6.4" text-anchor="middle" fill="#231f20" >a</text>
<line x1="289.5" y1="249.84" x2="289.5" y2="255.33" stroke="#111" stroke-width="1"/>
<line x1="286.3" y1="249.84" x2="292.7" y2="249.84" stroke="#000" stroke-width="1.25"/>
<rect x="284.8" y="255.33" width="9.9" height="13.97" fill="#a6002e" stroke="#7d0022" stroke-width="0.6"/>
<text x="289.75" y="278.7" font-size="7.7" text-anchor="middle" fill="#231f20" >a’</text>
<line x1="305.5" y1="239.53" x2="305.5" y2="243.19" stroke="#111" stroke-width="1"/>
<line x1="302.3" y1="239.53" x2="308.7" y2="239.53" stroke="#000" stroke-width="1.25"/>
<rect x="300.2" y="243.19" width="9.9" height="26.11" fill="#2e4c80" stroke="#1e3663" stroke-width="0.6"/>
<text x="305.15" y="278.7" font-size="7.7" text-anchor="middle" fill="#231f20" >b’</text>
<line x1="320.5" y1="242.97" x2="320.5" y2="250.52" stroke="#111" stroke-width="1"/>
<line x1="317.3" y1="242.97" x2="323.7" y2="242.97" stroke="#000" stroke-width="1.25"/>
<rect x="315.1" y="250.52" width="9.9" height="18.78" fill="#6aa842" stroke="#4f8a2c" stroke-width="0.6"/>
<text x="320.05" y="278.7" font-size="7.7" text-anchor="middle" fill="#231f20" >c’</text>
<text x="320.35" y="241.26500000000001" font-size="6.4" text-anchor="middle" fill="#231f20" class="m">#</text>
<line x1="334.5" y1="250.29" x2="334.5" y2="255.10" stroke="#111" stroke-width="1"/>
<line x1="331.3" y1="250.29" x2="337.7" y2="250.29" stroke="#000" stroke-width="1.25"/>
<rect x="330.0" y="255.10" width="9.9" height="14.20" fill="#52265f" stroke="#3a1547" stroke-width="0.6"/>
<text x="334.95" y="278.7" font-size="7.7" text-anchor="middle" fill="#231f20" >d’</text>
<line x1="283.4" y1="283.90" x2="340.7" y2="283.90" stroke="#4a4a4a" stroke-width="1.4"/>
<text x="312.04999999999995" y="294.09999999999997" font-size="8.6" text-anchor="middle" fill="#231f20" textLength="16.6" lengthAdjust="spacingAndGlyphs">+LPS</text>
<text transform="translate(187.6,222) rotate(-90)" font-size="9.0" text-anchor="middle" fill="#231f20" textLength="75.5" lengthAdjust="spacingAndGlyphs">Bmp6/Rpl19 mRNA</text>
<text transform="translate(197.9,222.8) rotate(-90)" font-size="9.0" text-anchor="middle" fill="#231f20" textLength="62.7" lengthAdjust="spacingAndGlyphs">(fold induction)</text>
<line x1="382.5" y1="174.2" x2="382.5" y2="270.0" stroke="#000" stroke-width="1.05"/>
<line x1="379.5" y1="269.5" x2="513.1" y2="269.5" stroke="#000" stroke-width="1.1"/>
<line x1="379.3" y1="269.10" x2="382.5" y2="269.10" stroke="#000" stroke-width="0.9"/>
<text x="376.9" y="271.40000000000003" font-size="7.2" text-anchor="end" fill="#231f20" >0</text>
<line x1="379.3" y1="246.10" x2="382.5" y2="246.10" stroke="#000" stroke-width="0.9"/>
<text x="376.9" y="248.40000000000003" font-size="7.2" text-anchor="end" fill="#231f20" >1</text>
<line x1="379.3" y1="223.10" x2="382.5" y2="223.10" stroke="#000" stroke-width="0.9"/>
<text x="376.9" y="225.40000000000003" font-size="7.2" text-anchor="end" fill="#231f20" >2</text>
<line x1="379.3" y1="200.10" x2="382.5" y2="200.10" stroke="#000" stroke-width="0.9"/>
<text x="376.9" y="202.40000000000003" font-size="7.2" text-anchor="end" fill="#231f20" >3</text>
<line x1="379.3" y1="177.10" x2="382.5" y2="177.10" stroke="#000" stroke-width="0.9"/>
<text x="376.9" y="179.40000000000003" font-size="7.2" text-anchor="end" fill="#231f20" >4</text>
<line x1="392.5" y1="233.22" x2="392.5" y2="241.50" stroke="#111" stroke-width="1"/>
<line x1="389.3" y1="233.22" x2="395.7" y2="233.22" stroke="#000" stroke-width="1.25"/>
<rect x="387.7" y="241.50" width="9.9" height="27.60" fill="#a6002e" stroke="#7d0022" stroke-width="0.6"/>
<text x="392.65" y="278.5" font-size="7.7" text-anchor="middle" fill="#231f20" >a</text>
<line x1="407.5" y1="256.45" x2="407.5" y2="258.52" stroke="#111" stroke-width="1"/>
<line x1="404.3" y1="256.45" x2="410.7" y2="256.45" stroke="#000" stroke-width="1.25"/>
<rect x="402.90000000000003" y="258.52" width="9.9" height="10.58" fill="#2e4c80" stroke="#1e3663" stroke-width="0.6"/>
<text x="407.85" y="278.5" font-size="7.7" text-anchor="middle" fill="#231f20" >b</text>
<text x="407.85" y="254.55000000000004" font-size="6.4" text-anchor="middle" fill="#231f20" >a</text>
<line x1="423.5" y1="262.89" x2="423.5" y2="264.04" stroke="#111" stroke-width="1"/>
<line x1="420.3" y1="262.89" x2="426.7" y2="262.89" stroke="#000" stroke-width="1.25"/>
<rect x="418.3" y="264.04" width="9.9" height="5.06" fill="#6aa842" stroke="#4f8a2c" stroke-width="0.6"/>
<text x="423.25" y="278.5" font-size="7.7" text-anchor="middle" fill="#231f20" >c</text>
<text x="423.25" y="260.99000000000007" font-size="6.4" text-anchor="middle" fill="#231f20" >a</text>
<line x1="438.5" y1="257.83" x2="438.5" y2="260.13" stroke="#111" stroke-width="1"/>
<line x1="435.3" y1="257.83" x2="441.7" y2="257.83" stroke="#000" stroke-width="1.25"/>
<rect x="433.5" y="260.13" width="9.9" height="8.97" fill="#52265f" stroke="#3a1547" stroke-width="0.6"/>
<text x="438.45" y="278.5" font-size="7.7" text-anchor="middle" fill="#231f20" >d</text>
<text x="438.45" y="255.93000000000004" font-size="6.4" text-anchor="middle" fill="#231f20" >a</text>
<line x1="457.5" y1="241.73" x2="457.5" y2="248.40" stroke="#111" stroke-width="1"/>
<line x1="454.3" y1="241.73" x2="460.7" y2="241.73" stroke="#000" stroke-width="1.25"/>
<rect x="452.8" y="248.40" width="9.9" height="20.70" fill="#a6002e" stroke="#7d0022" stroke-width="0.6"/>
<text x="457.75" y="278.5" font-size="7.7" text-anchor="middle" fill="#231f20" >a’</text>
<line x1="472.5" y1="250.24" x2="472.5" y2="252.77" stroke="#111" stroke-width="1"/>
<line x1="469.3" y1="250.24" x2="475.7" y2="250.24" stroke="#000" stroke-width="1.25"/>
<rect x="468.0" y="252.77" width="9.9" height="16.33" fill="#2e4c80" stroke="#1e3663" stroke-width="0.6"/>
<text x="472.95" y="278.5" font-size="7.7" text-anchor="middle" fill="#231f20" >b’</text>
<line x1="488.5" y1="255.53" x2="488.5" y2="258.29" stroke="#111" stroke-width="1"/>
<line x1="485.3" y1="255.53" x2="491.7" y2="255.53" stroke="#000" stroke-width="1.25"/>
<rect x="483.40000000000003" y="258.29" width="9.9" height="10.81" fill="#6aa842" stroke="#4f8a2c" stroke-width="0.6"/>
<text x="488.35" y="278.5" font-size="7.7" text-anchor="middle" fill="#231f20" >c’</text>
<line x1="503.5" y1="248.86" x2="503.5" y2="251.39" stroke="#111" stroke-width="1"/>
<line x1="500.3" y1="248.86" x2="506.7" y2="248.86" stroke="#000" stroke-width="1.25"/>
<rect x="498.3" y="251.39" width="9.9" height="17.71" fill="#52265f" stroke="#3a1547" stroke-width="0.6"/>
<text x="503.25" y="278.5" font-size="7.7" text-anchor="middle" fill="#231f20" >d’</text>
<line x1="452" y1="283.90" x2="509" y2="283.90" stroke="#4a4a4a" stroke-width="1.4"/>
<text x="480.5" y="294.09999999999997" font-size="8.6" text-anchor="middle" fill="#231f20" textLength="16.6" lengthAdjust="spacingAndGlyphs">+LPS</text>
<text transform="translate(355.6,221.7) rotate(-90)" font-size="9.0" text-anchor="middle" fill="#231f20" textLength="65" lengthAdjust="spacingAndGlyphs">Id1/Rpl19 mRNA</text>
<text transform="translate(367.2,222) rotate(-90)" font-size="9.0" text-anchor="middle" fill="#231f20" textLength="59.9" lengthAdjust="spacingAndGlyphs">(fold induction)</text>
<path d="M0.75,0 V301" stroke="#111" stroke-width="1.5"/>
<path d="M0,0.5 H520" stroke="#111" stroke-width="1"/>
<path d="M0,300.3 H520" stroke="#111" stroke-width="1.4"/>
<path d="M519.25,0 V301" stroke="#444" stroke-width="1.5"/>
</svg>
</body></html>
